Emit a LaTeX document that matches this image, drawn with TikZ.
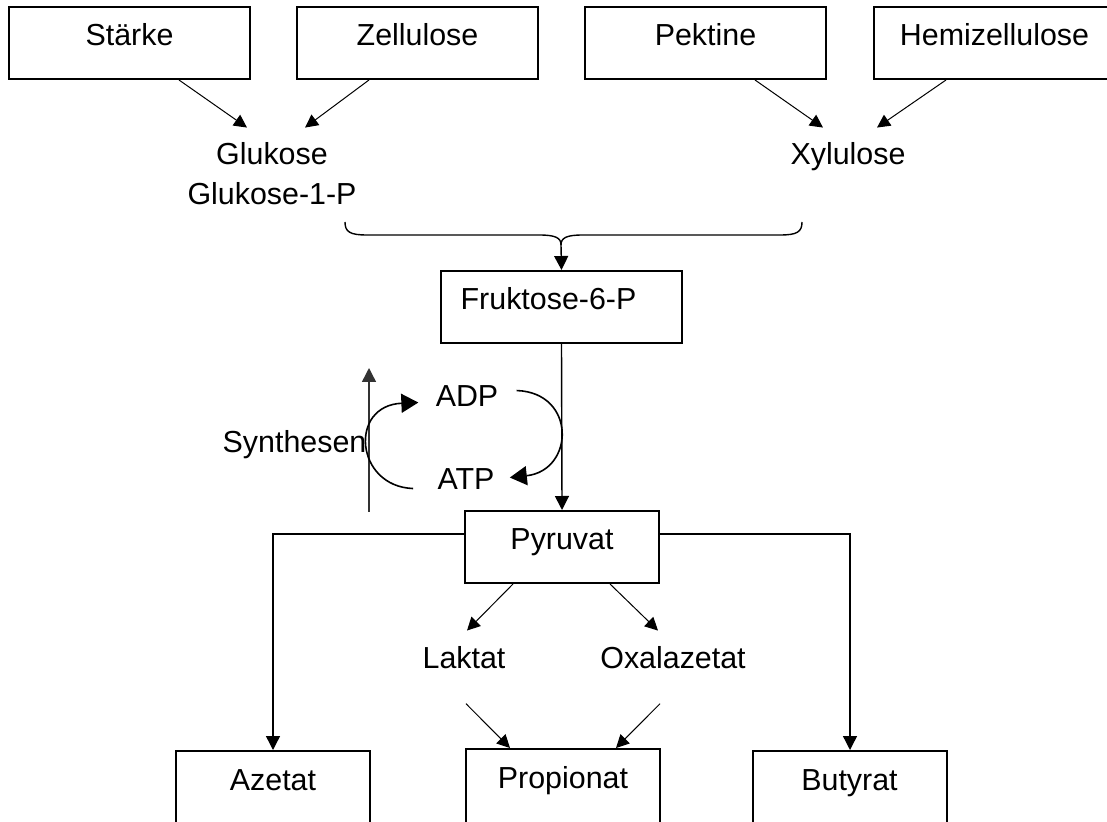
\documentclass[tikz,border=0pt]{standalone}
\usepackage{fontspec}
\setmainfont{Liberation Sans}
\usetikzlibrary{arrows.meta}
\tikzset{
	bbox/.style={draw=black,line width=1pt,inner sep=0pt,text height=19.5pt,text depth=16.5pt,minimum width=#1,anchor=base},
	lbl/.style={inner sep=0pt,anchor=base},
	arr/.style={-{Triangle[length=7pt,width=7pt]},line width=0.7pt},
	thinarr/.style={-{Triangle[length=6.5pt,width=6.5pt]},line width=0.5pt},
	cycarr/.style={-{Triangle[length=8.5pt,width=9.5pt]},line width=0.8pt}
}

\begin{document}
\begin{tikzpicture}[x=0.5pt,y=-0.5pt,font=\fontsize{15.2}{18}\selectfont]
	\useasboundingbox (0,0) rectangle (1107,822);
	\clip (0,0) rectangle (1107,822);
	
	% Polysaccharide
	\node[bbox=120.5pt] (staerke) at (129.5,46) {Stärke};
	\node[bbox=120.5pt] (zellulose) at (417.5,46) {Zellulose};
	\node[bbox=120.5pt] (pektine) at (705.5,46) {Pektine};
	\node[bbox=120.5pt] (hemi) at (994.5,46) {Hemizellulose};
	
	\node[lbl] (glukose) at (272,165) {Glukose};
	\node[lbl] (glukosep) at (272,205) {Glukose-1-P};
	\node[lbl] (xylulose) at (848,165) {Xylulose};
	
	\draw[thinarr] ([xshift=24.75pt]staerke.south) -- ([shift={(-12.5pt,7.5pt)}]glukose.north);
	\draw[thinarr] ([xshift=-24.25pt]zellulose.south) -- ([shift={(16.5pt,7.5pt)}]glukose.north);
	\draw[thinarr] ([xshift=24.75pt]pektine.south) -- ([shift={(-12.5pt,7.5pt)}]xylulose.north);
	\draw[thinarr] ([xshift=-24.25pt]hemi.south) -- ([shift={(14.5pt,7.5pt)}]xylulose.north);
	
	% Klammer
	\coordinate (bracetip) at (561,245);
	\draw[line width=0.7pt] (345,222) .. controls (345,232) and (350,235) .. (367,235) -- (539,235)
		.. controls (556,235) and (561,238) .. (bracetip);
	\draw[line width=0.7pt] (802,222) .. controls (802,232) and (797,235) .. (780,235) -- (583,235)
		.. controls (566,235) and (561,238) .. (bracetip);
	
	\node[bbox=120.5pt] (fruktose) at (561.5,310) {\hspace*{-13pt}Fruktose-6-P};
	\node[bbox=97pt] (pyruvat) at (562,550) {Pyruvat};
	\draw[arr] (bracetip) -- (fruktose.north);
	\draw[arr] (fruktose.south) -- (pyruvat.north);
	
	% ATP-Zyklus
	\node[lbl] (adp) at (467,407) {ADP};
	\node[lbl] (atp) at (466,490) {ATP};
	\node[lbl] (synth) at (294.5,453) {Synthesen};
	\coordinate (synlow) at (369,512);
	\coordinate (synhigh) at (369,368);
	\draw[arr,draw=black!80] (synlow) -- (synhigh);
	\draw[cycarr] ([shift={(-12pt,-4.5pt)}]atp.west) .. controls +(-58,-2) and +(-70,3) .. ([shift={(-8.5pt,-3pt)}]adp.west);
	\draw[cycarr] ([shift={(9pt,3pt)}]adp.east) .. controls +(60,2) and +(65,-7) .. ([shift={(7.5pt,1pt)}]atp.east);
	
	% Produkte
	\node[lbl] (laktat) at (464,668) {Laktat};
	\node[lbl] (oxal) at (673,668) {Oxalazetat};
	\node[bbox=97pt,text depth=30pt] (azetat) at (273,790) {Azetat};
	\node[bbox=97pt,text depth=30pt] (propionat) at (563,788) {Propionat};
	\node[bbox=97pt,text depth=30pt] (butyrat) at (849.5,790) {Butyrat};
	
	\draw[thinarr] ([xshift=-24.5pt]pyruvat.south) -- ([shift={(1.5pt,7.5pt)}]laktat.north);
	\draw[thinarr] ([xshift=24pt]pyruvat.south) -- ([shift={(-7.5pt,7.5pt)}]oxal.north);
	\draw[thinarr] ([shift={(1pt,-17.5pt)}]laktat.south) -- ([xshift=-26.5pt]propionat.north);
	\draw[thinarr] ([shift={(-6.5pt,-17.5pt)}]oxal.south) -- ([xshift=26.5pt]propionat.north);
	
	\coordinate (lcorner) at (273,534);
	\coordinate (rcorner) at (850,534);
	\draw[arr] (pyruvat.west |- lcorner) -- (lcorner) -- (lcorner |- azetat.north);
	\draw[arr] (pyruvat.east |- rcorner) -- (rcorner) -- (rcorner |- butyrat.north);
\end{tikzpicture}
\end{document}
